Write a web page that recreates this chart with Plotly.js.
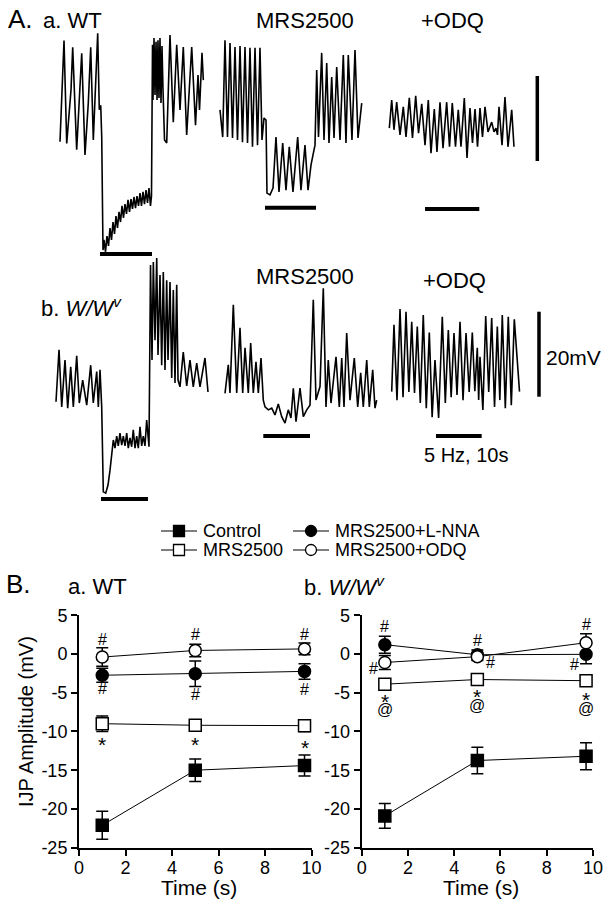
<!DOCTYPE html>
<html>
<head>
<meta charset="utf-8">
<script src="https://cdn.plot.ly/plotly-3.0.1.min.js"></script>
<style>html,body{margin:0;padding:0;background:#fff;}#plot{width:612px;height:909px;}</style>
</head>
<body>
<div id="plot"></div>
<script>
// ---------------- DATA ----------------
// Part A: membrane potential recordings (time in s, potential in mV relative to resting level)
const wtCtrlT = [0,0.88,1.47,2.41,2.78,3.65,4.75,5.47,6.19,6.72,7.29,8.25,8.60,8.91,9.13,9.41,
  9.63,9.96,10.28,10.61,10.94,11.27,11.60,11.93,12.25,12.58,12.91,13.24,13.57,13.89,14.22,14.55,14.88,15.21,15.54,15.86,16.19,16.52,16.85,17.18,17.51,17.83,18.16,18.49,18.82,19.15,19.47,19.80,20.02,
  20.24,20.35,20.57,20.79,21.01,21.23,21.44,21.66,21.88,22.10,22.32,22.54,22.87,
  23.35,24.07,24.79,25.54,26.26,26.98,27.72,28.82,29.65,30.20,30.53,31.07,31.36];
const wtCtrlV = [0.3,24.1,-0.1,12.5,22.5,-1.6,21.1,-2.8,9.4,22.5,0.7,25.8,7.8,8.9,1.4,-25.2,
  -22.8,-25.6,-21.9,-24.2,-20.0,-22.8,-18.6,-21.4,-17.2,-20.0,-16.2,-18.6,-14.8,-17.6,-14.4,-16.7,-13.4,-16.2,-13.2,-15.5,-12.7,-15.3,-12.5,-14.8,-11.8,-14.8,-11.5,-14.4,-11.1,-14.1,-10.6,-14.8,-12.5,
  23.1,10.1,24.7,11.3,23.8,10.1,24.2,10.6,24.7,9.4,22.8,12.5,0.7,
  0,25.4,4.9,23.1,7.8,22.6,1.9,22.6,4.2,16.0,7.8,21.2,14.8];

const wtMrsT = [0,0.59,1.09,1.64,2.19,2.74,3.28,3.83,4.38,4.92,5.47,6.02,6.56,7.11,7.66,8.21,8.75,9.19,9.63,10.07,
  10.28,10.94,11.60,12.25,12.91,13.72,14.44,15.16,15.97,17.00,17.72,18.60,19.26,19.91,20.35,20.79,21.16,21.55,22.25,22.76,
  23.35,23.85,24.44,24.95,25.54,26.26,26.98,27.57,28.07,28.88,29.54,30.20,31.01];
const wtMrsV = [7.8,1.4,24.2,1.4,23.5,1.2,22.6,0.7,22.8,0.2,22.6,0,22.4,-0.9,22.4,-0.5,22.4,0.7,5.9,5.4,
  -11.8,-12.2,-10.6,1.4,-11.5,0,-11.1,-0.9,-11.5,1.4,-11.1,-0.5,-11.1,-5.2,-2.8,-0.5,17.2,1.4,21.2,0.7,
  18.8,0,15.5,1.2,17.9,0.7,20.7,0,20.7,0.7,21.9,1.2,9.4];

const wtOdqT = [0.07,0.59,1.09,1.68,2.41,3.13,3.72,4.44,5.14,5.84,6.46,7.16,7.88,8.60,9.19,9.91,10.50,11.16,11.82,12.62,
  13.24,13.85,14.55,15.16,15.75,16.48,17.07,17.72,18.27,18.82,19.37,19.91,20.46,21.01,21.66,22.47,22.98,23.41,23.74,24.07,
  24.73,25.38,26.04,26.85,27.35];
const wtOdqV = [2.8,9.4,2.4,8.9,1.2,7.8,0.7,9.9,0.5,10.4,1.6,8.5,-1.2,9.4,-3.1,7.3,-2.8,8.9,-1.9,8.9,
  -1.6,8.7,-1.6,7.1,-1.6,9.9,-4.2,7.5,-0.7,7.3,-1.6,7.5,0.7,7.8,1.9,4.2,1.9,2.8,1.2,7.8,
  -1.2,10.1,-1.6,7.1,-1.6];

const wvCtrlT = [0,0.66,1.25,1.97,2.56,3.22,3.79,4.53,5.10,5.84,6.72,7.59,8.16,8.91,9.26,9.63,10.00,10.35,10.88,11.38,
  11.82,12.54,12.91,13.28,13.63,14.00,14.38,14.73,15.10,15.47,15.82,16.19,16.56,16.91,17.29,17.66,18.01,18.38,18.75,19.10,
  19.47,19.84,20.35,20.68,21.01,21.30,21.66,22.04,22.32,22.76,23.13,23.48,23.85,24.22,24.51,24.95,25.32,25.67,26.04,26.41,
  26.70,27.13,27.85,28.60,29.32,30.04,30.79,31.51,32.60,33.26];
const wvCtrlV = [1.0,13.2,-0.2,10.8,-0.5,9.2,-0.2,11.8,0.7,6.1,0.2,9.6,0.7,8.1,-0.2,8.5,-0.2,-20.2,-20.5,-18.6,
  -15.1,-8.0,-9.9,-7.1,-9.4,-6.4,-9.2,-7.1,-9.4,-6.4,-9.9,-7.5,-9.6,-5.6,-9.9,-7.1,-9.9,-4.9,-9.4,-7.1,
  -9.4,-3.3,-9.6,33.2,10.8,33.9,15.5,34.8,12.0,30.8,9.6,31.5,8.5,29.6,10.8,29.2,6.6,27.3,5.4,28.5,
  6.1,4.5,12.7,4.7,10.8,4.5,10.1,4.5,11.3,3.3];

const wvMrsT = [0,0.72,1.09,1.82,2.56,3.28,3.87,4.38,5.10,5.62,6.19,6.78,7.29,7.88,8.38,8.75,9.48,10.22,10.94,11.66,
  12.41,13.13,13.85,14.44,14.95,15.54,16.41,17.14,17.88,18.60,19.32,19.91,20.79,21.51,22.10,22.60,23.19,24.29,25.01,25.54,
  26.04,26.63,27.35,28.29,29.04,29.69,30.26,31.01,31.58,32.32,32.82,33.19];
const wvMrsV = [0.4,7.1,0.5,21.2,0.5,15.8,0.5,11.1,0.5,12.2,0.5,7.8,0.5,8.7,-1.2,-2.8,-3.5,-3.1,-4.7,-2.1,
  -5.1,-6.6,-3.5,-5.4,1.6,-6.3,1.6,-5.1,-3.5,-2.4,22.4,-1.2,2.0,25.1,-2.8,8.2,-1.9,9.0,-2.8,8.7,
  -2.8,14.6,-1.2,8.7,-2.8,5.2,-2.8,8.2,-2.8,5.9,-3.1,-1.2];

const wvOdqT = [0,0.50,1.16,1.82,2.48,3.13,3.76,4.38,4.99,5.60,6.26,6.91,7.57,8.23,8.85,9.47,10.27,11.07,11.73,12.39,
  13.01,13.63,14.29,14.95,15.61,16.26,16.95,17.64,18.19,18.73,19.03,19.32,19.95,20.57,21.23,21.88,22.50,23.11,23.66,24.20,
  24.86,25.51,26.17,26.83,27.97];
const wvOdqV = [0.8,16.5,-1.2,20.2,-0.5,19.6,0.7,17.2,0.5,16.1,-1.9,18.8,-3.1,14.7,-5.2,8.2,-5.4,18.4,-1.9,15.3,
  -0.5,14.6,0,17.2,-1.2,14.6,0.7,14.7,0.9,11.1,-1.2,9.0,-3.5,18.6,0.7,18.1,-2.8,16.1,-1.2,18.8,
  -3.1,18.4,-2.4,17.8,0.8];

// stimulus (5 Hz) on/off times for each recording, seconds
const stimOn  = [8.75, 9.85, 7.88, 9.85, 8.38, 9.69];
const stimOff = [20.13, 21.01, 19.76, 20.13, 18.60, 19.69];
const scaleBarMV = 20;

// Part B: IJP amplitude (mV), mean and SEM
const timeS = [1, 5, 9.7];
const wtCtrl = [-22.1, -15.0, -14.4],  wtCtrlErr = [1.8, 1.45, 1.35];
const wtMrs  = [-9.0, -9.2, -9.25],    wtMrsErr  = [1.0, 0.4, 0.75];
const wtLnna = [-2.75, -2.55, -2.25],  wtLnnaErr = [0.9, 1.65, 1.0];
const wtOdq  = [-0.4, 0.45, 0.65],     wtOdqErr  = [1.2, 0.8, 0.75];
const wvCtrl = [-20.9, -13.75, -13.2], wvCtrlErr = [1.6, 1.7, 1.75];
const wvMrs  = [-3.9, -3.3, -3.45],    wvMrsErr  = [0.35, 0.35, 0.35];
const wvLnna = [1.2, -0.1, -0.05],     wvLnnaErr = [1.1, 0.6, 1.2];
const wvOdq  = [-1.1, -0.35, 1.45],    wvOdqErr  = [0.9, 0.5, 1.15];
const seriesNames = ['Control', 'MRS2500+L-NNA', 'MRS2500', 'MRS2500+ODQ'];
const yTicks = [-25, -20, -15, -10, -5, 0, 5];
const yTickText = ['-25', '-20', '-15', '-10', '-5', '0', '5'];
const xTicks = [0, 2, 4, 6, 8, 10];

// ---------------- LAYOUT ----------------
const W = 612, H = 909;
const PXS = 4.57, PXV = 4.25;   // px per second, px per mV of recordings
const FONT = 'Arial, "Liberation Sans", sans-serif';
const px = x => x / W, py = y => 1 - y / H;

// recording panels: x0 = px of t=0, yb = px of 0 mV, L/R/T/B = panel box in px, bar = stim bar y px
const segs = [
  {t: wtCtrlT, v: wtCtrlV, x0: 60,    yb: 143, L: 45,  R: 215, T: 25,  B: 265, bar: 254},
  {t: wtMrsT,  v: wtMrsV,  x0: 220,   yb: 143, L: 215, R: 375, T: 25,  B: 265, bar: 207.7},
  {t: wtOdqT,  v: wtOdqV,  x0: 389,   yb: 140, L: 380, R: 560, T: 25,  B: 265, bar: 209},
  {t: wvCtrlT, v: wvCtrlV, x0: 56,    yb: 406, L: 45,  R: 215, T: 250, B: 510, bar: 499},
  {t: wvMrsT,  v: wvMrsV,  x0: 225,   yb: 395, L: 215, R: 385, T: 250, B: 510, bar: 436},
  {t: wvOdqT,  v: wvOdqV,  x0: 391.7, yb: 395, L: 385, R: 560, T: 250, B: 510, bar: 436}
];

const data = [];
const layout = {
  width: W, height: H, margin: {l: 0, r: 0, t: 0, b: 0},
  paper_bgcolor: 'white', plot_bgcolor: 'rgba(0,0,0,0)',
  showlegend: false, font: {family: FONT, color: 'black'},
  shapes: [], annotations: []
};

segs.forEach((s, i) => {
  const n = i + 3;
  layout['xaxis' + n] = {
    domain: [px(s.L), px(s.R)], range: [(s.L - s.x0) / PXS, (s.R - s.x0) / PXS],
    visible: false, fixedrange: true, anchor: 'y' + n
  };
  layout['yaxis' + n] = {
    domain: [py(s.B), py(s.T)], range: [(s.yb - s.B) / PXV, (s.yb - s.T) / PXV],
    visible: false, fixedrange: true, anchor: 'x' + n
  };
  data.push({x: s.t, y: s.v, xaxis: 'x' + n, yaxis: 'y' + n, mode: 'lines',
    line: {color: 'black', width: 1.6}, hoverinfo: 'skip'});
  const lvl = (s.yb - s.bar) / PXV;
  layout.shapes.push({type: 'line', xref: 'x' + n, yref: 'y' + n,
    x0: stimOn[i], x1: stimOff[i], y0: lvl, y1: lvl, line: {color: 'black', width: 4}});
});

// 20 mV scale bars (on the ODQ panels)
[[2, 537.3, 161], [5, 539, 396.7]].forEach(([i, xp, yBot]) => {
  const s = segs[i], n = i + 3;
  const tx = (xp - s.x0) / PXS, v0 = (s.yb - yBot) / PXV;
  layout.shapes.push({type: 'line', xref: 'x' + n, yref: 'y' + n,
    x0: tx, x1: tx, y0: v0, y1: v0 + scaleBarMV, line: {color: 'black', width: 3.5}});
});

// Part B axes
const axBase = {
  range: [0, 10], tickvals: xTicks, ticks: 'outside', ticklen: 6, tickwidth: 2, tickcolor: 'black',
  showline: true, linewidth: 2, linecolor: 'black', showgrid: false, zeroline: false,
  tickfont: {size: 18, color: 'black', family: FONT}, fixedrange: true
};
const ayBase = Object.assign({}, axBase, {range: [-25, 5], tickvals: yTicks, ticktext: yTickText});
layout.xaxis  = Object.assign({}, axBase, {domain: [px(79), px(311.5)], anchor: 'y', ticklabelstandoff: -3});
layout.yaxis  = Object.assign({}, ayBase, {domain: [py(847.7), py(615.2)], anchor: 'x'});
layout.xaxis2 = Object.assign({}, axBase, {domain: [px(361.7), px(593)], anchor: 'y2', ticklabelstandoff: -3});
layout.yaxis2 = Object.assign({}, ayBase, {domain: [py(847.7), py(615.2)], anchor: 'x2'});

const styles = [
  {symbol: 'square', fill: 'black'},
  {symbol: 'circle', fill: 'black'},
  {symbol: 'square', fill: 'white'},
  {symbol: 'circle', fill: 'white'}
];
function addSeries(xa, ya, vals, errs, k) {
  data.push({
    x: timeS, y: vals, xaxis: xa, yaxis: ya, mode: 'lines+markers', name: seriesNames[k],
    line: {color: 'black', width: 1},
    marker: {symbol: styles[k].symbol, size: 12, color: styles[k].fill, line: {color: 'black', width: 1.5}},
    error_y: {type: 'data', array: errs, visible: true, color: 'black', thickness: 1.5, width: 6},
    cliponaxis: false, hoverinfo: 'skip'
  });
}
addSeries('x', 'y', wtCtrl, wtCtrlErr, 0);
addSeries('x', 'y', wtMrs, wtMrsErr, 2);
addSeries('x', 'y', wtLnna, wtLnnaErr, 1);
addSeries('x', 'y', wtOdq, wtOdqErr, 3);
addSeries('x2', 'y2', wvCtrl, wvCtrlErr, 0);
addSeries('x2', 'y2', wvMrs, wvMrsErr, 2);
addSeries('x2', 'y2', wvLnna, wvLnnaErr, 1);
addSeries('x2', 'y2', wvOdq, wvOdqErr, 3);

// significance marks
const sigLeft = [
  [1, 1.9, '#'], [1, -4.4, '#'], [1, -11.1, '*'],
  [5, 2.5, '#'], [5, -5.25, '#'], [5, -11.1, '*'],
  [9.7, 2.5, '#'], [9.7, -4.6, '#'], [9.7, -11.4, '*']
];
const sigRight = [
  [1, 3.6, '#'], [0.5, -1.85, '#'], [1, -5.5, '*'], [1, -7.2, '@'],
  [5, 1.7, '#'], [5.55, -1.1, '#'], [5, -4.9, '*'], [5, -6.65, '@'],
  [9.7, 3.85, '#'], [9.2, -1.4, '#'], [9.7, -5.2, '*'], [9.7, -7.0, '@']
];
function addSig(list, xr, yr) {
  list.forEach(([x, y, t]) => {
    layout.annotations.push({x: x, y: y, xref: xr, yref: yr, text: t, showarrow: false,
      xanchor: 'center', yanchor: 'middle', yshift: t === '*' ? -5 : 0,
      font: {size: t === '*' ? 21 : 16, family: FONT, color: 'black'}});
  });
}
addSig(sigLeft, 'x', 'y');
addSig(sigRight, 'x2', 'y2');

// text labels (paper coords from px)
function txt(text, x, y, size, xanchor, extra) {
  layout.annotations.push(Object.assign({text: text, x: px(x), y: py(y), xref: 'paper', yref: 'paper',
    showarrow: false, xanchor: xanchor || 'center', yanchor: 'middle',
    font: {size: size, family: FONT, color: 'black'}}, extra || {}));
}
txt('A.', 6, 19, 26, 'left');
txt('a. WT', 41, 21, 22, 'left');
txt('MRS2500', 304.5, 21, 22);
txt('+ODQ', 452, 21, 22);
txt('b. <i>W/W<sup>v</sup></i>', 39, 307, 22, 'left');
txt('MRS2500', 304.5, 276, 22);
txt('+ODQ', 454, 280, 22);
txt('20mV', 544, 357, 21, 'left');
txt('5 Hz, 10s', 465.5, 455, 20);
txt('B.', 4, 584, 26, 'left');
txt('a. WT', 66, 586, 22, 'left');
txt('b. <i>W/W<sup>v</sup></i>', 302, 586, 22, 'left');
txt('IJP Amplitude (mV)', 26, 722, 20, 'center', {textangle: -90});
txt('Time (s)', 199, 887, 21);
txt('Time (s)', 481, 887, 21);

// legend (drawn with shapes + text)
const legendItems = [
  {name: seriesNames[0], k: 0, lx: 161, y: 531},
  {name: seriesNames[1], k: 1, lx: 293, y: 531},
  {name: seriesNames[2], k: 2, lx: 161, y: 550},
  {name: seriesNames[3], k: 3, lx: 293, y: 550}
];
legendItems.forEach(it => {
  const cx = it.lx + 18;
  layout.shapes.push({type: 'line', xref: 'paper', yref: 'paper',
    x0: px(it.lx), x1: px(it.lx + 36), y0: py(it.y), y1: py(it.y), line: {color: 'black', width: 1.2}});
  layout.shapes.push({type: styles[it.k].symbol === 'square' ? 'rect' : 'circle', xref: 'paper', yref: 'paper',
    x0: px(cx - 5.5), x1: px(cx + 5.5), y0: py(it.y + 5.5), y1: py(it.y - 5.5),
    fillcolor: styles[it.k].fill, line: {color: 'black', width: 1.3}});
  txt(it.name, it.lx + 40, it.y, 18, 'left');
});

Plotly.newPlot('plot', data, layout, {staticPlot: true, displayModeBar: false});
</script>
</body>
</html>
